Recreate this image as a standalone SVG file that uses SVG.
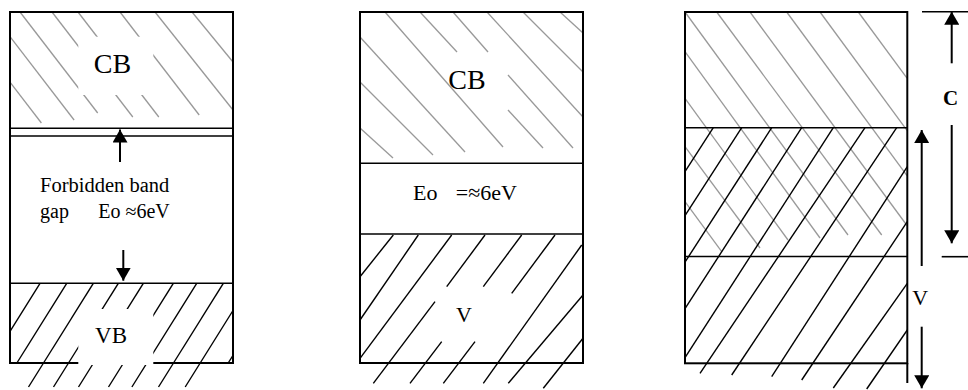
<svg xmlns="http://www.w3.org/2000/svg" width="968" height="390" viewBox="0 0 968 390">
<defs>
<marker id="ah" markerUnits="userSpaceOnUse" markerWidth="14" markerHeight="15" refX="13" refY="7.5" orient="auto">
<path d="M0,0 L13,7.5 L0,15 z" fill="#000"/>
</marker>
</defs>
<style>
.box{fill:none;stroke:#000;stroke-width:2}
.sep{stroke:#000;stroke-width:1.6;fill:none}
.hg line{stroke:#999;stroke-width:1.3}
.hb line{stroke:#000;stroke-width:1.4}
.wb{fill:#fff;stroke:none}
.t{font-family:"Liberation Serif","Times New Roman",serif;fill:#000}
.ar{stroke:#000;stroke-width:2;fill:none}
.tk{stroke:#000;stroke-width:1.6}
</style>
<rect width="968" height="390" fill="#fff"/>

<g id="panel1">
<g class="hg">
<line x1="10" y1="82.2" x2="41.4" y2="123"/>
<line x1="10" y1="36.7" x2="74.1" y2="120"/>
<line x1="20" y1="12" x2="97.7" y2="113"/>
<line x1="52" y1="12" x2="132.8" y2="117"/>
<line x1="78" y1="12" x2="158.8" y2="117"/>
<line x1="120" y1="12" x2="199.2" y2="115"/>
<line x1="155" y1="12" x2="233" y2="110"/>
<line x1="192" y1="12" x2="233" y2="62"/>
</g>
<g class="hb">
<line x1="40" y1="283.3" x2="10" y2="331.3"/>
<line x1="66.7" y1="283.3" x2="16.9" y2="363"/>
<line x1="93.3" y1="283.3" x2="28.5" y2="387"/>
<line x1="118.3" y1="283.3" x2="53.5" y2="387"/>
<line x1="143.3" y1="283.3" x2="78.5" y2="387"/>
<line x1="173.3" y1="283.3" x2="108.5" y2="387"/>
<line x1="196.7" y1="283.3" x2="131.9" y2="387"/>
<line x1="223.3" y1="283.3" x2="158.5" y2="387"/>
<line x1="233" y1="310.5" x2="185.2" y2="387"/>
<line x1="233" y1="355.3" x2="228.2" y2="363"/>
</g>
<rect class="box" x="10" y="12" width="223" height="351"/>
<line class="sep" x1="10" y1="128.3" x2="233" y2="128.3"/>
<line class="sep" x1="10" y1="136" x2="233" y2="136"/>
<line class="sep" x1="10" y1="283.3" x2="233" y2="283.3"/>
<rect class="wb" x="78.3" y="36.7" width="75" height="58.3"/>
<rect class="wb" x="78.3" y="309" width="75" height="56"/>
<text class="t" x="112.5" y="72.7" font-size="28" text-anchor="middle">CB</text>
<text class="t" x="40" y="191.7" font-size="20.5">Forbidden band</text>
<text class="t" x="40" y="218.3" font-size="20">gap</text>
<text class="t" x="98.3" y="218.3" font-size="20">Eo ≈6eV</text>
<text class="t" x="111" y="342.7" font-size="23" text-anchor="middle">VB</text>
</g>

<g id="panel2">
<g class="hg">
<line x1="360" y1="128" x2="393" y2="158"/>
<line x1="360" y1="82" x2="433" y2="155"/>
<line x1="360" y1="37" x2="465" y2="152"/>
<line x1="385" y1="12" x2="503" y2="147"/>
<line x1="420" y1="12" x2="457" y2="52"/>
<line x1="453" y1="12" x2="488" y2="52"/>
<line x1="487" y1="12" x2="583" y2="117"/>
<line x1="523" y1="12" x2="583" y2="72"/>
<line x1="560" y1="12" x2="583" y2="33"/>
<line x1="508" y1="75" x2="573" y2="148"/>
<line x1="508" y1="110" x2="543" y2="148"/>
</g>
<g class="hb">
<line x1="393.3" y1="235" x2="360" y2="276.7"/>
<line x1="418.3" y1="235" x2="360" y2="320"/>
<line x1="451.7" y1="235" x2="360" y2="358.3"/>
<line x1="485" y1="235" x2="446.7" y2="286.7"/>
<line x1="435" y1="301.7" x2="373.3" y2="383.3"/>
<line x1="521.7" y1="235" x2="483.3" y2="286.7"/>
<line x1="441.7" y1="341.7" x2="410" y2="383.3"/>
<line x1="555" y1="235" x2="511.7" y2="293.3"/>
<line x1="475" y1="341.7" x2="443.3" y2="383.3"/>
<line x1="581.7" y1="245" x2="483.3" y2="383.3"/>
<line x1="583" y1="295" x2="508.3" y2="383.3"/>
<line x1="583" y1="338.3" x2="543.3" y2="388.3"/>
</g>
<rect class="box" x="360" y="12" width="223" height="351"/>
<line class="sep" x1="360" y1="163.3" x2="583" y2="163.3"/>
<line class="sep" x1="360" y1="234" x2="583" y2="234"/>
<text class="t" x="467" y="89" font-size="28" text-anchor="middle">CB</text>
<text class="t" x="413" y="200" font-size="22">Eo</text>
<text class="t" x="517" y="200" font-size="22" text-anchor="end">=≈6eV</text>
<text class="t" x="464" y="321.7" font-size="22" text-anchor="middle">V</text>
</g>

<g id="panel3">
<g class="hg">
<line x1="685" y1="201.7" x2="721.7" y2="251.7"/>
<line x1="685" y1="146.7" x2="760" y2="248"/>
<line x1="685" y1="98.3" x2="788" y2="240"/>
<line x1="685" y1="51.7" x2="820" y2="238"/>
<line x1="685" y1="12" x2="848" y2="235"/>
<line x1="716.7" y1="12" x2="881.7" y2="235"/>
<line x1="750" y1="12" x2="907" y2="225.5"/>
<line x1="786.7" y1="12" x2="907" y2="175.6"/>
<line x1="820" y1="12" x2="907" y2="130.3"/>
<line x1="858.3" y1="12" x2="907" y2="78.2"/>
</g>
<g class="hb">
<line x1="713.3" y1="127.7" x2="685" y2="171.6"/>
<line x1="741.7" y1="127.7" x2="685" y2="215.6"/>
<line x1="771.7" y1="127.7" x2="685" y2="262.1"/>
<line x1="801.7" y1="127.7" x2="685" y2="308.6"/>
<line x1="833.3" y1="127.7" x2="685" y2="357.6"/>
<line x1="865" y1="127.7" x2="700" y2="373.3"/>
<line x1="896.7" y1="127.7" x2="731.7" y2="375"/>
<line x1="907.3" y1="166.7" x2="771.7" y2="376.7"/>
<line x1="907.3" y1="221.7" x2="801.7" y2="380"/>
<line x1="907.3" y1="283.3" x2="833.3" y2="388"/>
<line x1="907.3" y1="330" x2="866.7" y2="389"/>
</g>
<rect class="box" x="685" y="12" width="222.3" height="351.3"/>
<line class="sep" x1="685" y1="127.7" x2="907.3" y2="127.7"/>
<line class="sep" x1="685" y1="256.5" x2="907.3" y2="256.5"/>
<line class="ar" x1="907.3" y1="363" x2="907.3" y2="383"/>
<text class="t" x="950.7" y="105" font-size="21" font-weight="bold" text-anchor="middle">C</text>
<text class="t" x="920.3" y="305" font-size="22" text-anchor="middle">V</text>
</g>

<g id="connectors">
<line class="ar" x1="120" y1="162" x2="120" y2="129.5" marker-end="url(#ah)"/>
<line class="ar" x1="123.3" y1="250" x2="123.3" y2="280.7" marker-end="url(#ah)"/>
<line class="tk" x1="922" y1="11.7" x2="968" y2="11.7"/>
<line class="tk" x1="941.7" y1="256.7" x2="968" y2="256.7"/>
<line class="ar" x1="951.7" y1="63.3" x2="951.7" y2="11.7" marker-end="url(#ah)"/>
<line class="ar" x1="951.7" y1="125" x2="951.7" y2="243.3" marker-end="url(#ah)"/>
<line class="ar" x1="921.7" y1="266" x2="921.7" y2="130" marker-end="url(#ah)"/>
<line class="ar" x1="921.7" y1="326.7" x2="921.7" y2="388.3" marker-end="url(#ah)"/>
</g>
</svg>
